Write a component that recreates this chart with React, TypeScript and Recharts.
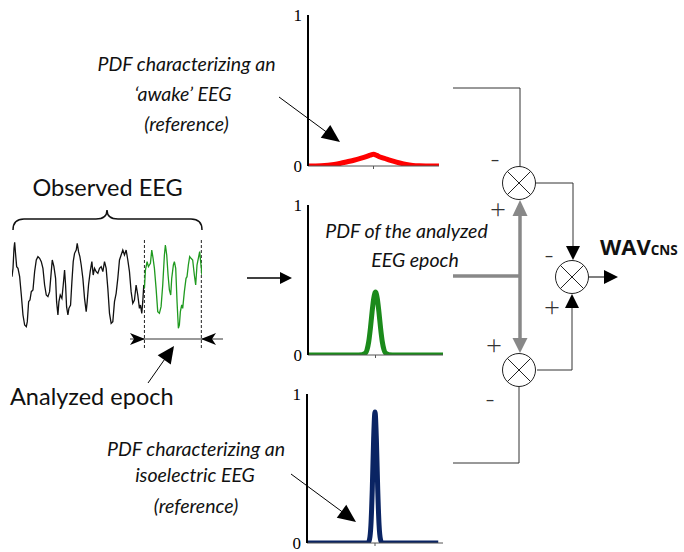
import React from 'react';
import { LineChart, Line, XAxis, YAxis, ReferenceLine } from 'recharts';

const SANS = "'Open Sans', Lato, sans-serif";
const ITAL = "Lato, 'Open Sans', sans-serif";
const SERIF = "'Liberation Serif', 'DejaVu Serif', serif";

// ---- Observed EEG trace (sample index, amplitude) ----
const EEG_T_OBS = [12, 15, 18, 20, 23, 26, 30, 35, 40, 45, 50, 55, 58, 62, 66, 70, 75, 80, 85, 90, 95, 100, 105, 110, 115, 120, 125, 130, 133, 138, 143, 146, 150, 153, 157, 162, 166, 170, 173, 176, 180, 183, 188, 192, 196, 200, 205, 208, 212, 216, 220, 225, 230, 235, 238, 242, 247, 252, 256, 260, 265, 270, 275, 280, 285, 290, 295, 300, 305, 310, 315, 320, 325, 330, 335, 340, 345, 350, 355, 360, 365, 370, 375, 380, 385, 390, 395, 398, 402, 405, 408, 410];
const EEG_V_OBS = [175, 200, 260, 278, 240, 205, 200, 175, 120, 60, 30, 25, 40, 100, 105, 130, 135, 190, 225, 235, 230, 220, 200, 150, 120, 115, 130, 190, 225, 205, 170, 100, 60, 100, 120, 110, 150, 195, 150, 85, 60, 80, 90, 160, 220, 245, 255, 275, 250, 235, 210, 170, 110, 70, 100, 150, 190, 220, 180, 200, 190, 185, 200, 205, 190, 220, 200, 140, 65, 35, 40, 100, 125, 170, 225, 240, 255, 240, 255, 225, 190, 130, 95, 105, 150, 120, 80, 90, 65, 100, 150, 140];
// ---- Analyzed epoch ----
const EEG_T_EPOCH = [410, 413, 418, 422, 428, 432, 436, 440, 445, 450, 455, 460, 465, 470, 473, 477, 481, 485, 489, 492, 497, 500, 504, 508, 512, 515, 518, 522, 525, 530, 535, 538, 542, 546, 550, 555, 560, 564, 568, 572, 576, 580, 583];
const EEG_V_EPOCH = [140, 195, 220, 205, 215, 255, 230, 200, 140, 70, 65, 85, 150, 240, 270, 240, 180, 135, 120, 170, 210, 220, 200, 100, 20, 30, 70, 90, 80, 130, 170, 175, 210, 235, 230, 225, 180, 150, 210, 230, 250, 210, 180];
const EPOCH_BOUNDS = [410, 581];

// ---- PDFs ----
const Y_TICKS = [0, 1];
const AWAKE_X = [-1, -0.8, -0.6, -0.5, -0.4, -0.3, -0.2, -0.1, -0.05, 0, 0.05, 0.1, 0.2, 0.3, 0.4, 0.5, 0.6, 0.7, 0.8, 1];
const AWAKE_Y = [0, 0.002, 0.01, 0.018, 0.028, 0.038, 0.05, 0.064, 0.072, 0.078, 0.07, 0.06, 0.046, 0.032, 0.02, 0.01, 0.004, 0.001, 0, 0];
const EPOCH_X = [-1, -0.3, -0.2, -0.15, -0.125, -0.1, -0.075, -0.05, -0.025, 0, 0.025, 0.05, 0.075, 0.1, 0.125, 0.15, 0.2, 0.3, 1];
const EPOCH_Y = [0, 0, 0.002, 0.012, 0.036, 0.09, 0.18, 0.29, 0.38, 0.42, 0.38, 0.29, 0.18, 0.09, 0.036, 0.012, 0.002, 0, 0];
const ISO_X = [-1, -0.15, -0.1, -0.08, -0.06, -0.04, -0.02, 0, 0.02, 0.04, 0.06, 0.08, 0.1, 0.15, 0.93];
const ISO_Y = [0, 0, 0.003, 0.025, 0.12, 0.36, 0.7, 0.88, 0.7, 0.36, 0.12, 0.025, 0.003, 0, 0];

const zip = (xs: number[], ys: number[]) => xs.map((x, i) => ({ x, y: ys[i] }));

const eegMap = new Map<number, any>();
EEG_T_OBS.forEach((t, i) => eegMap.set(t, { t, obs: EEG_V_OBS[i], epoch: null }));
EEG_T_EPOCH.forEach((t, i) => {
  const e = eegMap.get(t) || { t, obs: null };
  e.epoch = EEG_V_EPOCH[i];
  eegMap.set(t, e);
});
const eegData = Array.from(eegMap.values()).sort((a, b) => a.t - b.t);

function PdfChart({ left, top, plotW, plotH, data, color }: any) {
  return (
    <div style={{ position: 'absolute', left, top }}>
      <LineChart width={20 + plotW + 10} height={10 + plotH + 10} data={data} margin={{ top: 10, right: 10, bottom: 0, left: 0 }}>
        <XAxis dataKey="x" type="number" domain={[-1, 1]} ticks={[0]} tickFormatter={() => ''} tickSize={3} height={10}
          axisLine={{ stroke: '#555', strokeWidth: 1 }} tickLine={{ stroke: '#555' }} allowDataOverflow />
        <YAxis type="number" domain={[0, 1]} ticks={Y_TICKS} interval={0} width={20} tickLine={false} tickSize={4} tickMargin={2}
          axisLine={{ stroke: '#000', strokeWidth: 2 }} tick={{ fill: '#000', fontSize: 17, fontFamily: SERIF }} allowDataOverflow />
        <Line dataKey="y" type="monotone" stroke={color} strokeWidth={5} dot={false} isAnimationActive={false} strokeLinejoin="round" />
      </LineChart>
    </div>
  );
}

function head(tx: number, ty: number, fx: number, fy: number, len: number, hw: number) {
  const dx = tx - fx, dy = ty - fy;
  const d = Math.hypot(dx, dy);
  const ux = dx / d, uy = dy / d;
  const bx = tx - ux * len, by = ty - uy * len;
  return `${tx},${ty} ${bx - uy * hw},${by + ux * hw} ${bx + uy * hw},${by - ux * hw}`;
}

function Arrow({ x1, y1, x2, y2, len = 15, hw = 6, stroke = '#000', sw = 1 }: any) {
  const d = Math.hypot(x2 - x1, y2 - y1);
  const ex = x2 - ((x2 - x1) / d) * (len - 1), ey = y2 - ((y2 - y1) / d) * (len - 1);
  return (
    <g>
      <line x1={x1} y1={y1} x2={ex} y2={ey} stroke={stroke} strokeWidth={sw} />
      <polygon points={head(x2, y2, x1, y1, len, hw)} fill={stroke} />
    </g>
  );
}

function Mult({ cx, cy, r = 16.5 }: any) {
  const k = r * 0.7071;
  return (
    <g stroke="#222" strokeWidth={1} fill="#fff">
      <circle cx={cx} cy={cy} r={r} />
      <line x1={cx - k} y1={cy - k} x2={cx + k} y2={cy + k} />
      <line x1={cx - k} y1={cy + k} x2={cx + k} y2={cy - k} />
    </g>
  );
}

function IT({ x, y, children }: any) {
  return (
    <text x={x} y={y} textAnchor="middle" fontFamily={ITAL} fontStyle="italic" fontSize={19.5} fill="#111">{children}</text>
  );
}

const sign = { fontFamily: SANS, fontSize: 28, fill: '#333', textAnchor: 'middle' as const, fontWeight: 300 };

export default function App() {
  return (
    <div style={{ position: 'absolute', left: 0, top: 0, width: 684, height: 552, overflow: 'hidden', background: '#fff' }}>
      <div style={{ position: 'absolute', left: 12, top: 235 }}>
        <LineChart width={190} height={115} data={eegData} margin={{ top: 0, right: 0, bottom: 0, left: 0 }}>
          <XAxis dataKey="t" type="number" domain={[12, 583]} hide />
          <YAxis type="number" domain={[-45, 300]} hide />
          {EPOCH_BOUNDS.map((b) => (
            <ReferenceLine key={b} segment={[{ x: b, y: -39 }, { x: b, y: 285 }]} stroke="#222" strokeDasharray="3 2" />
          ))}
          <Line dataKey="obs" type="linear" stroke="#111" strokeWidth={1.3} dot={false} isAnimationActive={false} connectNulls={false} />
          <Line dataKey="epoch" type="linear" stroke="#1f9a1f" strokeWidth={1.3} dot={false} isAnimationActive={false} connectNulls={false} />
        </LineChart>
      </div>

      <PdfChart left={288} top={5} plotW={131} plotH={151} data={zip(AWAKE_X, AWAKE_Y)} color="#ff0000" />
      <PdfChart left={288} top={195} plotW={135} plotH={150} data={zip(EPOCH_X, EPOCH_Y)} color="#1b8a1b" />
      <PdfChart left={287} top={384} plotW={136} plotH={149} data={zip(ISO_X, ISO_Y)} color="#0a2463" />

      <svg width={684} height={552} style={{ position: 'absolute', left: 0, top: 0, pointerEvents: 'none' }}>
        {/* Observed EEG brace */}
        <text x={107.5} y={196} textAnchor="middle" fontFamily={ITAL} fontSize={23.5} fill="#111">Observed EEG</text>
        <path d="M13,230 Q13,219 24,219 L96,219 Q107,219 107,210 Q107,219 118,219 L191,219 Q202,219 202,230" fill="none" stroke="#111" strokeWidth={1.5} />

        {/* epoch span */}
        <line x1={130} y1={339} x2={223} y2={339} stroke="#777" strokeWidth={1.6} />
        <polygon points="145,339 130,333 134,339 130,345" fill="#000" />
        <polygon points="201,339 216,333 212,339 216,345" fill="#000" />
        <Arrow x1={148} y1={383} x2={174} y2={346} len={17} hw={8} />
        <text x={10} y={405} fontFamily={ITAL} fontSize={23.5} fill="#111">Analyzed epoch</text>

        {/* input arrow */}
        <Arrow x1={247} y1={278} x2={292} y2={278} len={12} hw={6} sw={1.5} />

        {/* top annotation */}
        <IT x={186.5} y={71}>PDF characterizing an</IT>
        <IT x={183} y={101}>‘awake’ EEG</IT>
        <IT x={186.5} y={131}>(reference)</IT>
        <Arrow x1={279} y1={97} x2={340} y2={142} len={18} hw={8} />

        {/* middle annotation */}
        <IT x={406.5} y={238}>PDF of the analyzed</IT>
        <IT x={415} y={267}>EEG epoch</IT>

        {/* bottom annotation */}
        <IT x={196} y={456}>PDF characterizing an</IT>
        <IT x={195} y={482}>isoelectric EEG</IT>
        <IT x={196} y={513}>(reference)</IT>
        <Arrow x1={291} y1={474} x2={356} y2={522} len={18} hw={8} />

        {/* block diagram */}
        <polyline points="453,88 520,88 520,167" fill="none" stroke="#333" strokeWidth={1} />
        <polyline points="453,463 519,463 519,387" fill="none" stroke="#333" strokeWidth={1} />
        <polyline points="536,183 573,183 573,248" fill="none" stroke="#333" strokeWidth={1} />
        <polygon points={head(573, 260, 573, 183, 14, 7)} fill="#000" />
        <polyline points="537,370 572,370 572,305" fill="none" stroke="#333" strokeWidth={1} />
        <polygon points={head(572, 294, 572, 370, 14, 7)} fill="#000" />
        <line x1={589} y1={277} x2={604} y2={277} stroke="#555" strokeWidth={1.5} />
        <polygon points={head(618, 277, 589, 277, 14, 7)} fill="#000" />

        {/* gray analyzed epoch PDF feed */}
        <line x1={453} y1={276} x2={520} y2={276} stroke="#888" strokeWidth={3.5} />
        <line x1={520} y1={214} x2={520} y2={341} stroke="#888" strokeWidth={3.5} />
        <polygon points={head(520, 200, 520, 276, 16, 7.5)} fill="#888" />
        <polygon points={head(520, 353, 520, 276, 15, 7.5)} fill="#888" />

        <Mult cx={519} cy={183} />
        <Mult cx={519} cy={370} />
        <Mult cx={572} cy={277} />

        <text x={495} y={168} {...sign}>-</text>
        <text x={498} y={219} {...sign}>+</text>
        <text x={549} y={264} {...sign}>-</text>
        <text x={552} y={317} {...sign}>+</text>
        <text x={494} y={355} {...sign}>+</text>
        <text x={490} y={408} {...sign}>-</text>

        <text x={600} y={255} fontFamily={SANS} fontWeight={700} fill="#111">
          <tspan fontSize={22}>WAV</tspan>
          <tspan fontSize={13.5}>CNS</tspan>
        </text>
      </svg>
    </div>
  );
}
